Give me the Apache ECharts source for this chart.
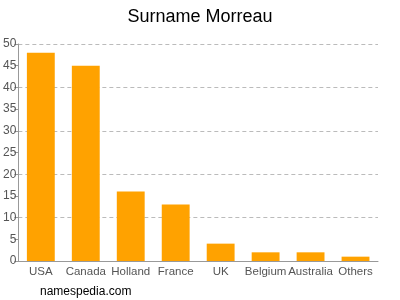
<!DOCTYPE html>
<html><head><meta charset="utf-8">
<script src="https://cdn.jsdelivr.net/npm/echarts@6/dist/echarts.min.js"></script>
<style>html,body{margin:0;padding:0;background:#fff}#c{width:400px;height:300px}</style>
</head><body><div id="c"></div>
<script>
var categories = ["USA","Canada","Holland","France","UK","Belgium","Australia","Others"];
var values = [48,45,16,13,4,2,2,1];
var chart = echarts.init(document.getElementById('c'), null, {renderer:'canvas'});
var font = 'Liberation Sans, Arial, sans-serif';
chart.setOption({
  animation:false,
  title:{text:'Surname Morreau', left:'center', top:3, textStyle:{fontFamily:font, fontWeight:'normal', fontSize:18, color:'#000'}},
  graphic:[{type:'text', left:40, top:286, style:{text:'namespedia.com', font:'12px '+font, fill:'#000'}}],
  grid:{left:17, right:22, top:44, bottom:39, containLabel:false},
  xAxis:{type:'category', data:categories,
    axisLine:{lineStyle:{color:'#999'}},
    axisTick:{alignWithLabel:true, length:4, lineStyle:{color:'#999'}},
    axisLabel:{color:'#555', fontFamily:font, fontSize:11.5, margin:5, interval:0}},
  yAxis:[{type:'value', min:0, max:50, interval:5,
    axisLine:{show:true, lineStyle:{color:'#999'}},
    axisTick:{show:true, length:4, inside:false, lineStyle:{color:'#999'}},
    axisLabel:{color:'#555', fontFamily:font, fontSize:12, margin:2},
    splitLine:{show:false}},
   {type:'value', min:0, max:50, interval:10, position:'left',
    axisLine:{show:false}, axisTick:{show:false}, axisLabel:{show:false},
    splitLine:{show:true, lineStyle:{color:'#bbb', type:[4,3]}}}],
  series:[{type:'bar', data:values, yAxisIndex:0, barWidth:'62%', itemStyle:{color:'#FFA200'}}]
});
</script></body></html>
